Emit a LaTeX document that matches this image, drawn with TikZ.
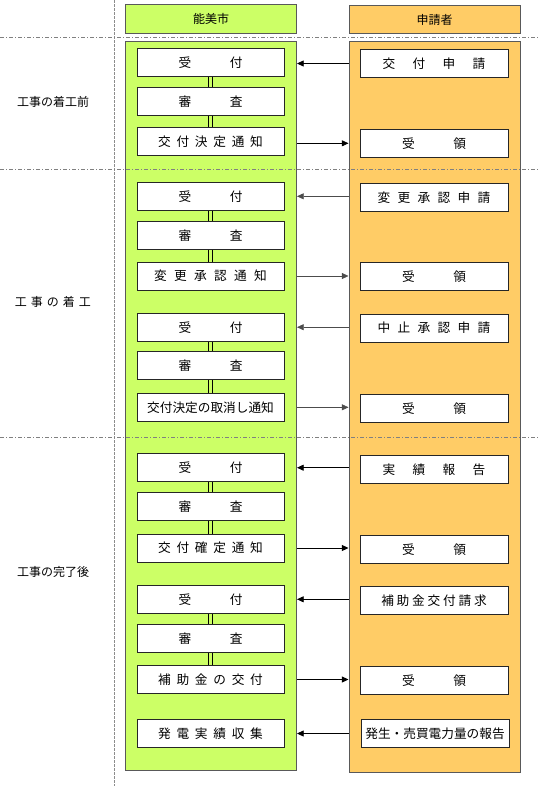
\documentclass[tikz,border=0pt]{standalone}
\usepackage{fontspec}
\setmainfont{Noto Sans CJK JP}
\usetikzlibrary{arrows.meta}
\definecolor{lgreen}{HTML}{CCFF66}
\definecolor{lorange}{HTML}{FFCC66}
\makeatletter
\newcommand\ls[2]{\def\ls@first{1}\@tfor\ls@c:=#2\do{\ifx\ls@first\@empty\hspace{#1}\fi\ls@c\let\ls@first\@empty}}
\makeatother
\begin{document}
\begin{tikzpicture}[x=0.75pt,y=-0.75pt,
  every node/.style={font=\fontsize{9}{11}\selectfont},
  lane/.style={draw=black!65, line width=0.75pt, inner sep=0, minimum width=128.25pt},
  gbox/.style={draw=black!85, fill=white, minimum width=110.25pt, minimum height=21pt, inner sep=0, line width=0.75pt, font=\fontsize{9.5}{11}\selectfont},
  obox/.style={draw=black!85, fill=white, minimum width=111pt, minimum height=21pt, inner sep=0, line width=0.75pt, font=\fontsize{9.5}{11}\selectfont},
  arr/.style={-{Triangle[length=5pt,width=4.5pt]}, line width=0.6pt, draw=black},
  garr/.style={-{Triangle[length=5pt,width=4.5pt]}, line width=0.45pt, draw=black!70, fill=black},
  dline/.style={draw=black, line width=0.7pt},
  sepline/.style={draw=black!50, dash pattern=on 3pt off 1.5pt on 0.75pt off 1.5pt, line width=0.6pt},
  vline/.style={draw=black!45, dash pattern=on 2pt off 1pt, line width=0.6pt},
  lbl/.style={inner sep=0}
]
\useasboundingbox (0,0) rectangle (550,786);

% separators
\coordinate (vt) at (114.5,0);
\coordinate (vb) at (114.5,786);
\draw[vline] (vt) -- (vb);
\coordinate (s1l) at (0,37); \coordinate (s1r) at (540,37);
\coordinate (s2l) at (0,169); \coordinate (s2r) at (540,169);
\coordinate (s3l) at (0,437); \coordinate (s3r) at (540,437);
\draw[sepline] (s1l) -- (s1r);

% lanes
\node[lane, fill=lgreen, minimum height=21.75pt] (GH) at (211,19.2) {能美市};
\node[lane, fill=lorange, minimum height=21pt] (OH) at (434.5,19.7) {申請者};
\node[lane, fill=lgreen, minimum height=546.75pt] (G) at (211,405.5) {};
\node[lane, fill=lorange, minimum height=548.25pt] (O) at (434.5,406.5) {};

\draw[sepline] (s2l) -- (s2r);
\draw[sepline] (s3l) -- (s3r);

% left labels
\node[lbl] (L1) at (53,101.7) {工事の着工前};
\node[lbl] (L2) at (53,301.7) {\ls{3pt}{工事の着工}};
\node[lbl] (L3) at (53,571.7) {工事の完了後};

% green boxes
\node[gbox] (g1) at (210.5,62.2) {\ls{29pt}{受付}};
\node[gbox] (g2) at (210.5,101.2) {\ls{29pt}{審査}};
\node[gbox] (g3) at (210.5,141.3) {\ls{4.3pt}{交付決定通知}};
\node[gbox] (g4) at (210.5,196.3) {\ls{29pt}{受付}};
\node[gbox] (g5) at (210.5,235.3) {\ls{29pt}{審査}};
\node[gbox] (g6) at (210.5,276) {\ls{5.5pt}{変更承認通知}};
\node[gbox] (g7) at (210.5,327.2) {\ls{29pt}{受付}};
\node[gbox] (g8) at (210.5,365.8) {\ls{29pt}{審査}};
\node[gbox] (g9) at (210.5,407.3) {交付決定の取消し通知};
\node[gbox] (g10) at (210.5,467.7) {\ls{29pt}{受付}};
\node[gbox] (g11) at (210.5,506.8) {\ls{29pt}{審査}};
\node[gbox] (g12) at (210.5,548) {\ls{4.3pt}{交付確定通知}};
\node[gbox] (g13) at (210.5,599.3) {\ls{29pt}{受付}};
\node[gbox] (g14) at (210.5,638.5) {\ls{29pt}{審査}};
\node[gbox] (g15) at (210.5,679.5) {\ls{4.3pt}{補助金の交付}};
\node[gbox] (g16) at (210.5,733.5) {\ls{4.3pt}{発電実績収集}};

% orange boxes
\node[obox] (o1) at (434,63.5) {\ls{13pt}{交付申請}};
\node[obox] (o2) at (434,143.3) {\ls{29pt}{受領}};
\node[obox] (o3) at (434,197.3) {\ls{5.5pt}{変更承認申請}};
\node[obox] (o4) at (434,276.7) {\ls{29pt}{受領}};
\node[obox] (o5) at (434,328) {\ls{5.5pt}{中止承認申請}};
\node[obox] (o6) at (434,408.3) {\ls{29pt}{受領}};
\node[obox] (o7) at (434,469.5) {\ls{13pt}{実績報告}};
\node[obox] (o8) at (434,549.2) {\ls{29pt}{受領}};
\node[obox] (o9) at (434,600.2) {\ls{2.1pt}{補助金交付請求}};
\node[obox] (o10) at (434,680.5) {\ls{29pt}{受領}};
\node[obox] (o11) at (435,733.5) {発生・売買電力量の報告};

% double connectors
\foreach \a/\b in {g1/g2,g2/g3,g4/g5,g5/g6,g7/g8,g8/g9,g10/g11,g11/g12,g13/g14,g14/g15}{
  \draw[dline] ([xshift=-1.2pt]\a.south) -- ([xshift=-1.2pt]\b.north);
  \draw[dline] ([xshift=1.2pt]\a.south) -- ([xshift=1.2pt]\b.north);
}

% arrows
\draw[arr] (o1 -| O.west) -- (o1 -| G.east);
\draw[arr] (o2 -| G.east) -- (o2 -| O.west);
\draw[garr] (g4 -| O.west) -- (g4 -| G.east);
\draw[garr] (g6 -| G.east) -- (g6 -| O.west);
\draw[garr] (g7 -| O.west) -- (g7 -| G.east);
\draw[garr] (g9 -| G.east) -- (g9 -| O.west);
\draw[arr] (g10 -| O.west) -- (g10 -| G.east);
\draw[arr] (g12 -| G.east) -- (g12 -| O.west);
\draw[arr] (g13 -| O.west) -- (g13 -| G.east);
\draw[arr] (g15 -| G.east) -- (g15 -| O.west);
\draw[arr] (g16 -| O.west) -- (g16 -| G.east);
\end{tikzpicture}
\end{document}
